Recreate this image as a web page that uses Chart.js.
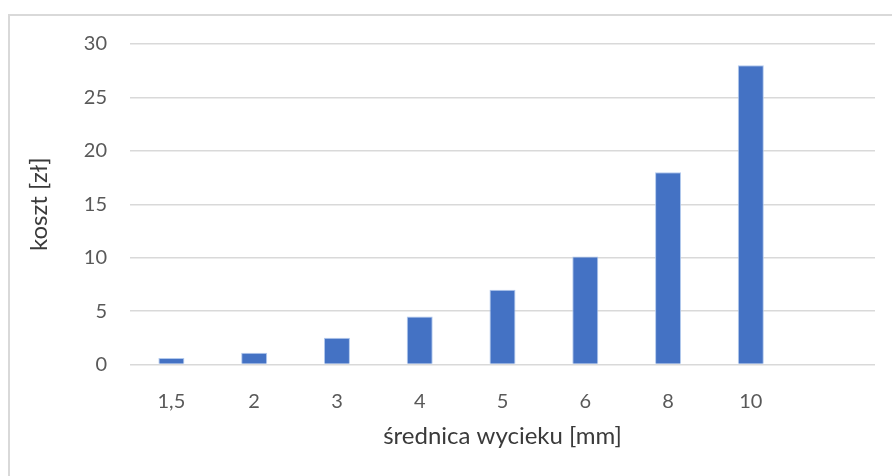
<!DOCTYPE html>
<html>
<head>
<meta charset="utf-8">
<script src="https://cdn.jsdelivr.net/npm/chart.js@4/dist/chart.umd.min.js"></script>
<style>
  html, body { margin: 0; padding: 0; background: #ffffff; }
  #wrap { width: 892px; height: 476px; position: relative; }
</style>
</head>
<body>
<div id="wrap"><canvas id="c" width="892" height="476"></canvas></div>
<script>
// Koszt w zależności od średnicy wycieku
const categories = ['1,5', '2', '3', '4', '5', '6', '8', '10', ''];
const costs = [0.6, 1.1, 2.5, 4.5, 7.0, 10.1, 18.0, 28.0, null];
const yTicks = [0, 5, 10, 15, 20, 25, 30];

const FONT = "Lato, 'Open Sans', sans-serif";

// Light frame around the chart, open on the right and bottom edges
const framePlugin = {
  id: 'frame',
  beforeDraw(chart) {
    const ctx = chart.ctx;
    ctx.save();
    ctx.strokeStyle = '#d9d9d9';
    ctx.lineWidth = 2;
    ctx.beginPath();
    ctx.moveTo(9, 476);
    ctx.lineTo(9, 15);
    ctx.lineTo(892, 15);
    ctx.stroke();
    ctx.restore();
  }
};

new Chart(document.getElementById('c'), {
  type: 'bar',
  data: {
    labels: categories,
    datasets: [{
      data: costs,
      backgroundColor: '#4472c4',
      borderColor: 'rgba(170,195,235,0.9)',
      borderWidth: 1,
      categoryPercentage: 1.0,
      barPercentage: 0.314
    }]
  },
  options: {
    responsive: false,
    animation: false,
    devicePixelRatio: 1,
    layout: { padding: { left: 8, right: 17, top: 44, bottom: 0 } },
    plugins: {
      legend: { display: false },
      tooltip: { enabled: false }
    },
    scales: {
      x: {
        grid: { display: false },
        border: { display: false },
        ticks: {
          color: '#595959',
          font: { family: FONT, size: 20 },
          padding: 17,
          maxRotation: 0,
          autoSkip: false
        },
        title: {
          display: true,
          text: 'średnica wycieku [mm]',
          color: '#3a3a3a',
          font: { family: FONT, size: 24 },
          padding: { top: 0, bottom: 25 }
        },
        afterFit(scale) { scale.height = 476 - 364.5; }
      },
      y: {
        min: 0,
        max: 30,
        afterBuildTicks(scale) { scale.ticks = yTicks.map(v => ({ value: v })); },
        grid: {
          color: '#d9d9d9',
          lineWidth: 1.5,
          drawTicks: false
        },
        border: { display: false },
        ticks: {
          color: '#595959',
          font: { family: FONT, size: 20 },
          padding: 23
        },
        title: {
          display: true,
          text: 'koszt [zł]',
          color: '#3a3a3a',
          font: { family: FONT, size: 24 },
          padding: { top: 17, bottom: 0 }
        },
        afterFit(scale) { scale.width = 130 - 8; }
      }
    }
  },
  plugins: [framePlugin]
});
</script>
</body>
</html>
